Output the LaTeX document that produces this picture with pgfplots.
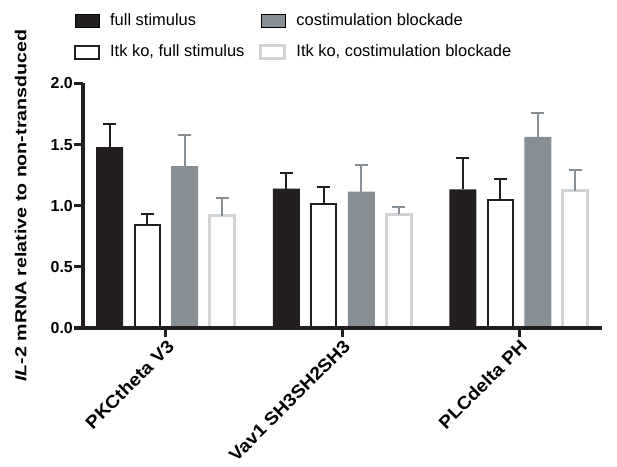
\documentclass[border=0pt]{standalone}
\usepackage{fontspec}
\setmainfont{Liberation Sans}
\usepackage{graphicx}
\usepackage{pgfplots}
\pgfplotsset{compat=1.18}
\definecolor{cblack}{HTML}{231F20}
\definecolor{cgray}{HTML}{878E94}
\definecolor{clight}{HTML}{D1D3D7}
\newcommand{\xl}[1]{{\fontsize{18}{18}\selectfont\bfseries\scalebox{1.08}[1]{#1}}}
\newcommand{\yl}[1]{{\fontsize{16}{16}\selectfont\bfseries #1}}
\begin{document}
\begin{tikzpicture}
\useasboundingbox (0,0) rectangle (617bp,467bp);
\begin{axis}[
  at={(83bp,139bp)}, anchor=south west,
  scale only axis, width=519bp, height=244.5bp,
  xmin=-0.47, xmax=2.47, ymin=0, ymax=2,
  axis x line*=bottom, axis y line*=left,
  axis on top,
  axis line style={line width=3bp, cblack},
  xtick={0,1,2},
  xticklabels={\xl{PKCtheta V3}, \xl{Vav1 SH3SH2SH3}, \xl{PLCdelta PH}},
  ytick={0,0.5,1,1.5,2},
  yticklabels={\yl{0.0},\yl{0.5},\yl{1.0},\yl{1.5},\yl{2.0}},
  tick align=outside, major tick length=9bp,
  tick style={line width=3bp, cblack},
  y tick label style={inner sep=1bp},
  x tick label style={rotate=45, anchor=north east, inner sep=1bp},
  ylabel={\scalebox{1.23}[1]{\textit{IL}-2 mRNA relative to non-transduced}},
  ylabel style={font=\bfseries\fontsize{16}{16}\selectfont, at={(axis description cs:-0.12,0.5)}, anchor=center},
  legend columns=2,
  legend cell align=left,
  legend image code/.code={\draw[#1] (0bp,-6.5bp) rectangle (24bp,6.5bp);},
  legend style={at={(axis description cs:-0.0174,1.2945)}, anchor=north west,
    draw=none, fill=none, inner sep=0pt, row sep=12bp,
    font=\fontsize{16.5}{16.5}\selectfont,
    nodes={inner sep=2bp, text height=12bp, text depth=3bp},
    /tikz/every odd column/.append style={column sep=8bp},
    /tikz/every even column/.append style={column sep=13bp}},
]
\addplot[ybar, bar width=27bp, bar shift=0pt, fill=cblack, draw=none,
  error bars/.cd, y dir=plus, y explicit,
  error bar style={line width=2bp, cblack},
  error mark options={rotate=90, mark size=6.5bp, line width=2bp, cblack}]
  coordinates {(-0.3186,1.48) +- (0,0.19) (0.6814,1.14) +- (0,0.13) (1.6814,1.134) +- (0,0.256)};
\addlegendentry{full stimulus}
\addplot[ybar, bar width=27bp, bar shift=0pt, fill=cgray, draw=none,
  error bars/.cd, y dir=plus, y explicit,
  error bar style={line width=2bp, cgray},
  error mark options={rotate=90, mark size=6.5bp, line width=2bp, cgray}]
  coordinates {(0.1062,1.325) +- (0,0.255) (1.1062,1.115) +- (0,0.218) (2.1062,1.564) +- (0,0.191)};
\addlegendentry{costimulation blockade}
\addplot[ybar, bar width=25bp, bar shift=0pt, fill=white, draw=cblack, line width=2bp,
  error bars/.cd, y dir=plus, y explicit,
  error bar style={line width=2bp, cblack},
  error mark options={rotate=90, mark size=6.5bp, line width=2bp, cblack}]
  coordinates {(-0.1062,0.842) +- (0,0.088) (0.8938,1.012) +- (0,0.143) (1.8938,1.047) +- (0,0.169)};
\addlegendentry{Itk ko, full stimulus}
\addplot[ybar, bar width=25bp, bar shift=0pt, fill=white, draw=clight, line width=3bp,
  error bars/.cd, y dir=plus, y explicit,
  error bar style={line width=2bp, cgray},
  error mark options={rotate=90, mark size=6.5bp, line width=2bp, cgray}]
  coordinates {(0.3186,0.918) +- (0,0.147) (1.3186,0.931) +- (0,0.059) (2.3186,1.122) +- (0,0.168)};
\addlegendentry{Itk ko, costimulation blockade}
\end{axis}
\end{tikzpicture}
\end{document}
